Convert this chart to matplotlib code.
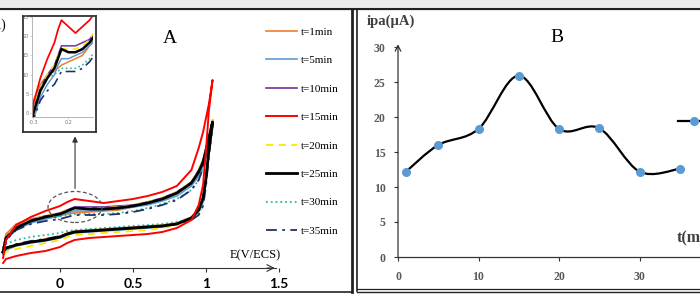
import numpy as np
import matplotlib
matplotlib.use("Agg")
import matplotlib.pyplot as plt
from matplotlib.lines import Line2D
from matplotlib.patches import Ellipse, Rectangle, PathPatch
from matplotlib.path import Path

# ---- panel A : cyclic voltammograms (E in V/ECS, current in uA) ----
E_up = [-0.39, -0.37, -0.3, -0.2, -0.1, 0.0, 0.05, 0.1, 0.2, 0.3, 0.4,
        0.5, 0.6, 0.7, 0.8, 0.9, 0.95, 0.98, 1.0, 1.02, 1.045]
E_down = E_up[::-1]

labels = ["t=1min", "t=5min", "t=10min", "t=15min",
          "t=20min", "t=25min", "t=30min", "t=35min"]

i_up_1 = [4.5, 8.5, 11, 12.25, 13, 13.25, 13.5, 13.75, 14, 14.25, 14.5,
          15.25, 16, 17, 18.5, 21, 23.5, 26, 29, 32, 35]
i_dn_1 = [35, 28.5, 21.5, 17, 14.5, 12.75, 11.25, 10.75, 10.5, 10.25, 10,
          9.75, 9.5, 9.25, 8.75, 8, 7.25, 6.5, 5.75, 4.75, 3.5]
i_up_5 = [3.5, 7, 9.5, 11.25, 12.25, 13, 13.75, 14.25, 14.25, 14.5, 14.75,
          15.25, 15.75, 16.75, 18, 20.5, 23, 25.5, 28.5, 31.5, 35.5]
i_dn_5 = [35.5, 28.5, 21.5, 16.5, 14, 12.25, 11, 10.25, 10, 9.75, 9.5,
          9.25, 9, 8.75, 8.25, 7.5, 6.75, 6.25, 5.5, 4.5, 3.5]
i_up_10 = [4, 7.5, 10.25, 12, 13, 13.75, 14.5, 15.25, 15.25, 15.25, 15.5,
           15.75, 16.5, 17.5, 19, 21.5, 24.5, 27, 30, 33, 37]
i_dn_10 = [37, 30, 23, 17.75, 14.75, 12.5, 11, 10.5, 10.25, 10, 9.75,
           9.5, 9.25, 9, 8.5, 7.75, 7, 6.5, 5.75, 5, 4]
i_up_15 = [2.5, 7, 10.75, 12.75, 14.25, 15.5, 16.5, 17.25, 16.75, 16.25, 16.75,
           17.25, 18, 19, 20.5, 24.5, 30, 34, 37.5, 41, 47]
i_dn_15 = [47, 39.5, 29.5, 20.75, 15.75, 12, 10, 9, 8.5, 8.25, 8,
           7.75, 7.5, 7, 6.25, 5.25, 4.25, 3.75, 3, 2.25, 1.25]
i_up_20 = [4, 7.5, 10.25, 12, 13, 13.75, 14.5, 15, 15, 15, 15.25,
           15.75, 16.5, 17.5, 19, 21.5, 24.5, 27, 30, 33, 37]
i_dn_20 = [37, 30, 22.5, 17.25, 14.25, 12.25, 10.75, 10, 9.5, 9.25, 9,
           8.75, 8.5, 8.25, 7.75, 7, 6.25, 5.5, 4.75, 4, 3]
i_up_25 = [4, 7.5, 10, 11.75, 12.75, 13.5, 14.25, 15, 14.75, 14.75, 15,
           15.5, 16.25, 17.25, 18.75, 21.25, 24, 26.5, 29.5, 32.5, 36.5]
i_dn_25 = [36.5, 29.5, 22.5, 17.5, 14.5, 12.5, 11, 10.5, 10.25, 10, 9.75,
           9.5, 9.25, 9, 8.5, 7.75, 7, 6.5, 5.75, 5, 4]
i_up_30 = [5, 8, 10.5, 12, 12.75, 13, 13.25, 13.5, 13.5, 13.5, 13.75,
           14.25, 15, 16, 17.25, 19.5, 22, 25, 28, 31.5, 36]
i_dn_30 = [36, 29, 21, 16, 13.5, 12.5, 11.5, 11, 10.75, 10.5, 10.25,
           10, 9.75, 9.5, 9.25, 8.75, 8.25, 7.75, 7, 6, 5]
i_up_35 = [4, 7, 9.5, 11, 11.75, 12.25, 12.75, 13.25, 13.25, 13.25, 13.5,
           14, 14.75, 15.75, 17, 19.5, 22, 25, 28, 31.5, 35.5]
i_dn_35 = [35.5, 28, 20.5, 15.5, 13.25, 12, 11, 10.5, 10.25, 10, 9.75,
           9.5, 9.25, 9, 8.5, 8, 7.25, 6.75, 6, 5, 4]

# ---- panel B : anodic peak current vs time ----
t_min = [1, 5, 10, 15, 20, 25, 30, 35]
ipa = [12.2, 16.0, 18.3, 25.9, 18.3, 18.4, 12.2, 12.6]

W, H = 700, 300


def rect(x0, y0, x1, y1):
    # pixel box -> figure fraction
    return [x0 / W, 1 - y1 / H, (x1 - x0) / W, (y1 - y0) / H]


def fx(x):
    return x / W


def fy(y):
    return 1 - y / H


serif = "Liberation Serif"

fig = plt.figure(figsize=(7, 3), dpi=100)

curves = [
    (i_up_1, i_dn_1, "#ED7D31", "-", 1.2),
    (i_up_5, i_dn_5, "#5B9BD5", "-", 1.2),
    (i_up_10, i_dn_10, "#7030A0", "-", 1.2),
    (i_up_15, i_dn_15, "#FF0000", "-", 1.4),
    (i_up_20, i_dn_20, "#FFE600", (0, (4, 3)), 1.3),
    (i_up_25, i_dn_25, "#000000", "-", 2.0),
    (i_up_30, i_dn_30, "#2DB89A", ":", 1.3),
    (i_up_35, i_dn_35, "#1F2F6B", (0, (6, 3, 1.5, 3)), 1.3),
]
draw_order = [0, 1, 2, 4, 6, 7, 5, 3]

# panel A
axA = fig.add_axes(rect(0, 10, 352, 292))
axA.patch.set_alpha(0)
handles = [None] * len(curves)
for k in draw_order:
    up, dn, c, ls, lw = curves[k]
    x = E_up + E_down
    y = up + dn
    ln, = axA.plot(x, y, color=c, ls=ls, lw=lw, label=labels[k])
    handles[k] = ln
axA.set_xlim(-60 / 146, (352 - 60) / 146)
axA.set_ylim(-6, 64.5)
for s in ["left", "right", "top"]:
    axA.spines[s].set_visible(False)
axA.spines["bottom"].set_position(("data", 0))
axA.spines["bottom"].set_bounds(-0.42, 1.48)
axA.spines["bottom"].set_color("#333333")
axA.spines["bottom"].set_linewidth(0.8)
axA.set_yticks([])
axA.set_xticks([0, 0.5, 1, 1.5])
axA.set_xticklabels(["0", "0.5", "1", "1.5"], fontfamily="Lato",
                    fontweight="bold", fontsize=10)
axA.tick_params(axis="x", direction="out", length=3, width=0.8,
                color="#333333", pad=4)
axA.annotate("", xy=(1.49, 0), xytext=(1.40, 0),
             arrowprops=dict(arrowstyle="->", lw=0.8, color="#333333",
                             mutation_scale=12))
axA.text(1.34, 3.2, "E(V/ECS)", fontfamily=serif, fontsize=9,
         ha="center", va="center")
axA.text(0.75, 57.5, "A", fontfamily=serif, fontsize=14,
         ha="center", va="center")

# dashed ellipse + arrow to the zoom box
axA.add_patch(Ellipse((0.103, 15.25), 0.37, 7.75, fill=False,
                      ls=(0, (3, 2)), lw=0.9, ec="#555555", zorder=5))
axA.annotate("", xy=(0.103, 33.6), xytext=(0.103, 19.2),
             arrowprops=dict(arrowstyle="-|>", lw=0.8, color="#333333",
                             mutation_scale=8))

axA.legend(handles=handles, loc="upper left",
           bbox_to_anchor=(fx(266), fy(27)), bbox_transform=fig.transFigure,
           frameon=False, borderpad=0, borderaxespad=0, handlelength=2.8,
           handletextpad=0.3, labelspacing=1.68,
           prop=dict(family=serif, size=8))

# inset box
box = fig.add_axes(rect(23, 16, 96, 132))
box.set_xticks([])
box.set_yticks([])
for s in box.spines.values():
    s.set_linewidth(1.3)
    s.set_color("#333333")
ins = fig.add_axes(rect(32, 17, 93, 117))
ins.patch.set_alpha(0)
for k in draw_order:
    up, dn, c, ls, lw = curves[k]
    ins.plot(E_up, up, color=c, ls=ls, lw=lw * 0.9)
ins.set_xlim(-0.32, 0.55)
ins.set_ylim(9.7, 17.5)
for s in ["right", "top"]:
    ins.spines[s].set_visible(False)
for s in ["left", "bottom"]:
    ins.spines[s].set_color("#aaaaaa")
    ins.spines[s].set_linewidth(0.6)
ins.set_xticks([-0.3, 0.2])
ins.set_xticklabels(["-0.3", "0.2"])
ins.set_yticks([10, 11.5, 13, 14.5, 16, 17.5])
ins.set_yticklabels(["0", "5", "10", "15", "20", "25"])
ins.tick_params(labelsize=3.5, labelcolor="#777777", length=1.5,
                width=0.4, color="#aaaaaa", pad=1)

fig.text(fx(6), fy(25), "I(µA)", fontfamily=serif, fontsize=10,
         ha="right", va="center")

# panel B
axB = fig.add_axes(rect(398, 47, 700, 257))
axB.patch.set_alpha(0)
P = np.column_stack([t_min, ipa]).astype(float)
n = len(P)
verts = [P[0]]
codes = [Path.MOVETO]
for i in range(n - 1):
    p0 = P[i - 1] if i > 0 else P[i]
    p3 = P[i + 2] if i + 2 < n else P[i + 1]
    verts += [P[i] + (P[i + 1] - p0) / 6, P[i + 1] - (p3 - P[i]) / 6, P[i + 1]]
    codes += [Path.CURVE4] * 3
axB.add_patch(PathPatch(Path(verts, codes), fill=False, ec="black", lw=1.6))
axB.plot(t_min, ipa, ls="none", marker="o", ms=5.5, color="#5B9BD5",
         zorder=3)
axB.set_xlim(0, (700 - 398) / 8.05)
axB.set_ylim(0, 30)
for s in ["right", "top", "left"]:
    axB.spines[s].set_visible(False)
axB.spines["bottom"].set_color("#333333")
axB.spines["bottom"].set_linewidth(0.9)
axB.annotate("", xy=(0, 30.4), xytext=(0, 0),
             arrowprops=dict(arrowstyle="->", lw=0.9, color="#333333",
                             mutation_scale=10, shrinkA=0, shrinkB=0),
             annotation_clip=False)
axB.set_xticks([0, 10, 20, 30])
axB.set_yticks([0, 5, 10, 15, 20, 25, 30])
for lab in axB.get_xticklabels() + axB.get_yticklabels():
    lab.set_fontfamily(serif)
    lab.set_fontweight("bold")
axB.tick_params(labelsize=8.5, labelcolor="#595959", length=3, width=0.8,
                color="#333333")
axB.tick_params(axis="x", pad=7)
axB.tick_params(axis="y", pad=6)
axB.legend(handles=[Line2D([], [], color="black", lw=1.6, marker="o", ms=5.5,
                           mfc="#5B9BD5", mec="#5B9BD5")],
           labels=["ipa(µA)"], loc="center left",
           bbox_to_anchor=(fx(678), fy(122)), bbox_transform=fig.transFigure,
           frameon=False, borderpad=0, borderaxespad=0, handlelength=2.9,
           numpoints=1, prop=dict(family=serif, size=8))
fig.text(fx(367), fy(21), "ipa(µA)", fontfamily=serif, fontsize=10.5,
         fontweight="bold", color="#404040", ha="left", va="center")
fig.text(fx(557), fy(37), "B", fontfamily=serif, fontsize=14,
         ha="center", va="center")
fig.text(fx(677), fy(237), "t(min)", fontfamily=serif, fontsize=11.5,
         fontweight="bold", color="#404040", ha="left", va="center")

# panel frames
fig.add_artist(Rectangle((0, fy(7)), 1, 7 / H, transform=fig.transFigure,
                         color="#ececec", lw=0))
frame = [
    ((0, 700), (9, 9), 1.6),
    ((352, 352), (9, 292), 2.0),
    ((0, 352), (292, 292), 1.2),
    ((357, 357), (9, 291), 1.2),
    ((357, 700), (289, 289), 0.9),
    ((357, 700), (292, 292), 1.0),
]
for xs, ys, lw in frame:
    fig.add_artist(Line2D([fx(v) for v in xs], [fy(v) for v in ys],
                          transform=fig.transFigure, color="#222222", lw=lw))

fig.savefig("out.png", dpi=100)
